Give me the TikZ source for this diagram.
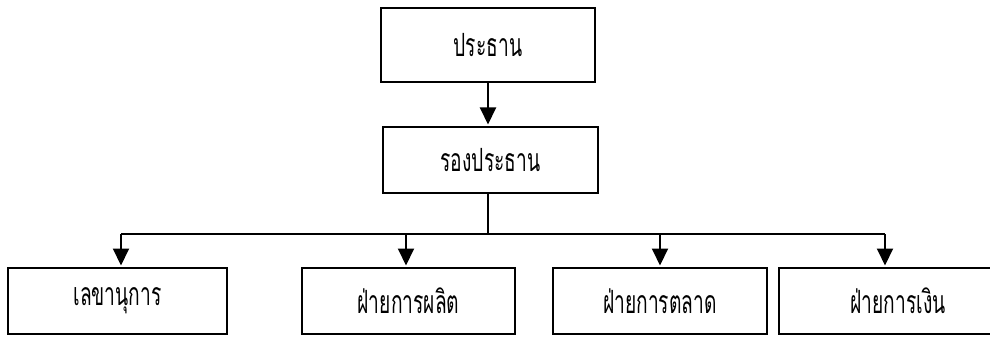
\documentclass[tikz,border=0pt]{standalone}
\usepackage{fontspec}
\newfontfamily\thaifont[Script=Thai,FakeStretch=0.6]{Loma}
\usetikzlibrary{arrows.meta,calc}
\tikzset{
  box/.style={draw=black, line width=2pt, minimum height=66pt, inner sep=0pt, font=\thaifont\fontsize{32}{36}\selectfont},
  link/.style={line width=2pt},
  arr/.style={line width=2pt, shorten >=1.5pt, -{Triangle[width=16pt,length=17pt]}}
}
\begin{document}
\begin{tikzpicture}[x=1pt,y=1pt]
\useasboundingbox (0,0) rectangle (990,338);
\clip (0,0) rectangle (990,338);
\fill[white] (0,0) rectangle (990,338);
\node[box, minimum width=214pt, minimum height=74pt] (pres) at (488,293) {ประธาน};
\node[box, minimum width=215pt] (vice) at (490.5,178) {รองประธาน};
\node[box, minimum width=219pt] (b1) at (117.5,37) {เลขานุการ};
\node[box, minimum width=213pt] (b2) at (408.5,37) {ฝ่ายการผลิต};
\node[box, minimum width=214pt] (b3) at (660,37) {ฝ่ายการตลาด};
\node[box, minimum width=238pt] (b4) at (898,37) {ฝ่ายการเงิน};
\coordinate (bus) at (488,104);
\coordinate (j1) at (121,104);
\coordinate (j2) at (406,104);
\coordinate (j3) at (660,104);
\coordinate (j4) at (885,104);
\draw[arr] (pres.south -| bus) -- (vice.north -| bus);
\draw[link] (vice.south -| bus) -- (bus);
\draw[link] (j1) -- (j4);
\draw[arr] (j1) -- (b1.north -| j1);
\draw[arr] (j2) -- (b2.north -| j2);
\draw[arr] (j3) -- (b3.north -| j3);
\draw[arr] (j4) -- (b4.north -| j4);
\end{tikzpicture}
\end{document}
